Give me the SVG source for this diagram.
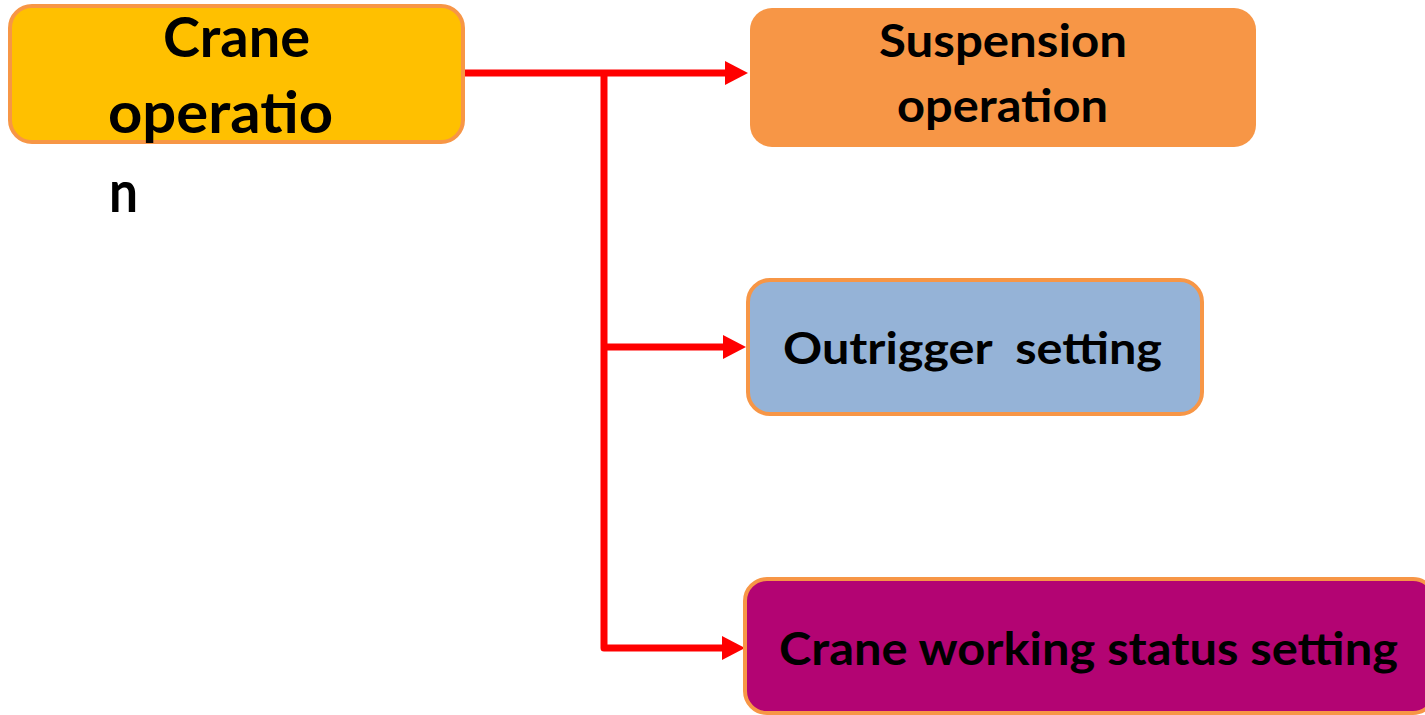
<svg xmlns="http://www.w3.org/2000/svg" width="1425" height="715" viewBox="0 0 1425 715">
<style>
.box{stroke:#F79646;stroke-width:4}
.lbl{font-family:Lato,"Open Sans","Liberation Sans",sans-serif;font-weight:bold;fill:#000}
.con{stroke:#FF0000;stroke-width:7;fill:none;stroke-linejoin:round}
</style>
<rect width="1425" height="715" fill="#FFFFFF"/>
<g id="connectors">
<path class="con" d="M463,73 H726"/>
<path class="con" d="M604,73 V648 H726"/>
<path class="con" d="M604,347 H726"/>
<path d="M725,61 L748,73 L725,85 Z" fill="#FF0000"/>
<path d="M723,335 L746,347 L723,359 Z" fill="#FF0000"/>
<path d="M722,636 L745,648 L722,660 Z" fill="#FF0000"/>
</g>
<g id="crane-operation">
<rect class="box" x="10" y="6" width="453" height="136" rx="22" fill="#FFC000"/>
<text class="lbl" x="163" y="57" font-size="55" textLength="147" lengthAdjust="spacingAndGlyphs">Crane</text>
<text class="lbl" x="108" y="133" font-size="58" textLength="225" lengthAdjust="spacingAndGlyphs">operatio</text>
<text class="lbl" x="109" y="212" font-size="58" textLength="29" lengthAdjust="spacingAndGlyphs">n</text>
</g>
<g id="suspension-operation">
<rect x="750" y="8" width="506" height="139" rx="22" fill="#F79646"/>
<text class="lbl" x="879" y="57" font-size="45" textLength="248" lengthAdjust="spacingAndGlyphs">Suspension</text>
<text class="lbl" x="897" y="122" font-size="45" textLength="211" lengthAdjust="spacingAndGlyphs">operation</text>
</g>
<g id="outrigger-setting">
<rect class="box" x="748" y="280" width="454" height="134" rx="22" fill="#95B3D7"/>
<text class="lbl" x="783" y="364" font-size="44" textLength="379" lengthAdjust="spacingAndGlyphs" xml:space="preserve">Outrigger  setting</text>
</g>
<g id="crane-working-status-setting">
<rect class="box" x="745" y="579" width="690" height="134" rx="22" fill="#B30473"/>
<text class="lbl" x="779" y="665" font-size="46" textLength="619" lengthAdjust="spacingAndGlyphs">Crane working status setting</text>
</g>
</svg>
